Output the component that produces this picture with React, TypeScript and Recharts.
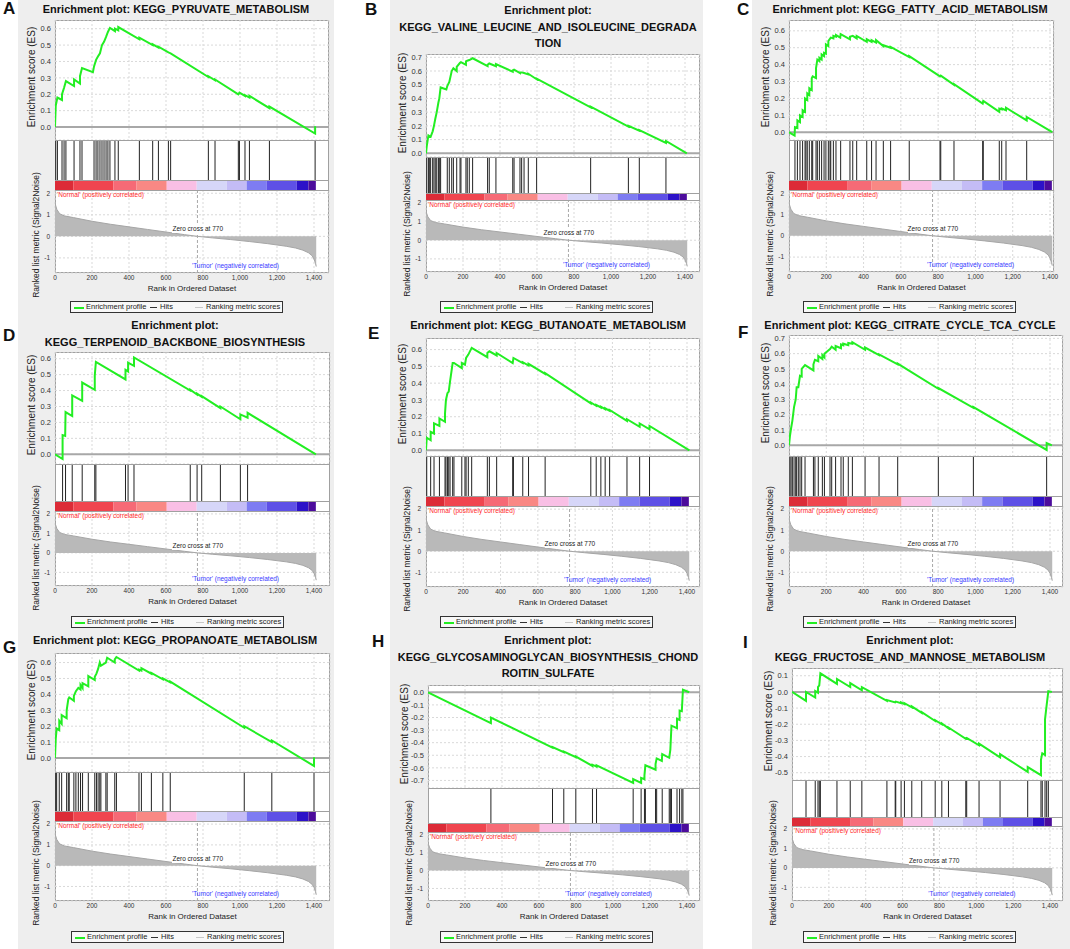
import React from 'react';
import {
  LineChart, Line, AreaChart, Area, ComposedChart, Scatter, XAxis, YAxis,
  CartesianGrid, ReferenceLine, ReferenceArea,
} from 'recharts';

const FONT = '"Liberation Sans", Arial, sans-serif';
const AX = 40; // room for the y tick labels
const RM = 12; // right room so the last x tick label is not cut

// shared axes / ranked list
const xTicks = [0, 200, 400, 600, 800, 1000, 1200, 1400];
const metricTicks = [-1, 0, 1, 2];
const metricDomain: [number, number] = [-1.7, 2.15];
const metricRanks = [0, 3, 10, 25, 50, 100, 200, 300, 400, 500, 600, 700, 770, 850, 950, 1050, 1150, 1250, 1300, 1340, 1370, 1390, 1400, 1408, 1412];
const metricScores = [1.6, 1.45, 1.25, 1.05, 0.95, 0.87, 0.7, 0.56, 0.44, 0.32, 0.2, 0.08, 0.0, -0.07, -0.15, -0.24, -0.34, -0.46, -0.54, -0.64, -0.76, -0.9, -1.05, -1.25, -1.4];

// colour bar
const barEdges = [0, 99, 315, 441, 604, 766, 928, 1036, 1145, 1307, 1370, 1410];
const barColors = ['#dc2b37', '#f0454f', '#f66a76', '#f98884', '#f9bfe5', '#d6d6f8', '#c4bcf6', '#7e7cf2', '#5e50e6', '#2c12c8', '#4c0c9c'];

const esTicks06 = [0, 0.1, 0.2, 0.3, 0.4, 0.5, 0.6];
const esTicks07 = [0, 0.1, 0.2, 0.3, 0.4, 0.5, 0.6, 0.7];
const esTicksH = [-0.7, -0.6, -0.5, -0.4, -0.3, -0.2, -0.1, 0];
const esTicksI = [-0.5, -0.4, -0.3, -0.2, -0.1, 0, 0.1];

// running enrichment score, [rank, ES]
const esA = [[0,0],[4,0.13],[13,0.18],[38,0.165],[38,0.2],[49,0.24],[59,0.28],[103,0.25],[103,0.29],[135,0.265],[135,0.31],[146,0.36],[205,0.335],[211,0.37],[222,0.41],[232,0.43],[243,0.45],[254,0.5],[265,0.52],[276,0.55],[286,0.58],[297,0.605],[324,0.585],[324,0.6],[342,0.59],[342,0.61],[456,0.535],[456,0.545],[528,0.5],[528,0.505],[559,0.485],[559,0.49],[613,0.455],[625,0.45],[829,0.305],[829,0.31],[865,0.285],[865,0.29],[991,0.2],[997,0.21],[1027,0.19],[1027,0.195],[1051,0.18],[1051,0.19],[1159,0.115],[1159,0.125],[1406,-0.04],[1406,0.005]];
const esB = [[0,0],[4,0.05],[13,0.13],[25,0.12],[36,0.16],[43,0.2],[50,0.25],[58,0.3],[67,0.37],[72,0.4],[79,0.48],[110,0.465],[115,0.49],[126,0.52],[139,0.6],[148,0.62],[166,0.6],[166,0.63],[184,0.66],[189,0.665],[216,0.645],[216,0.67],[223,0.675],[234,0.68],[252,0.693],[333,0.635],[333,0.645],[342,0.655],[378,0.635],[378,0.65],[469,0.595],[469,0.605],[476,0.61],[508,0.585],[508,0.59],[517,0.59],[530,0.585],[553,0.575],[553,0.58],[598,0.54],[598,0.545],[890,0.335],[890,0.34],[1094,0.195],[1094,0.2],[1153,0.165],[1153,0.17],[1297,0.075],[1297,0.09],[1410,0]];
const esC = [[0,0],[30,-0.02],[32,0.03],[45,0.025],[45,0.07],[59,0.06],[59,0.1],[73,0.09],[73,0.13],[86,0.12],[86,0.2],[98,0.19],[98,0.23],[109,0.22],[109,0.26],[122,0.25],[122,0.32],[127,0.33],[145,0.32],[145,0.38],[152,0.43],[163,0.42],[163,0.44],[175,0.43],[175,0.46],[188,0.45],[188,0.47],[198,0.465],[198,0.52],[211,0.51],[211,0.54],[224,0.56],[238,0.555],[238,0.57],[252,0.565],[252,0.575],[275,0.56],[277,0.58],[327,0.55],[327,0.565],[342,0.57],[363,0.555],[363,0.57],[417,0.535],[417,0.55],[443,0.535],[443,0.545],[467,0.53],[467,0.545],[506,0.51],[506,0.515],[545,0.5],[545,0.505],[645,0.445],[645,0.45],[810,0.33],[814,0.335],[885,0.28],[885,0.285],[1039,0.17],[1042,0.185],[1128,0.12],[1128,0.14],[1141,0.135],[1141,0.14],[1164,0.13],[1164,0.145],[1275,0.07],[1275,0.09],[1412,0]];
const esD = [[0,0],[41,-0.03],[41,0.12],[55,0.115],[57,0.265],[93,0.24],[93,0.37],[147,0.335],[147,0.45],[215,0.405],[215,0.495],[221,0.58],[381,0.47],[381,0.53],[395,0.52],[395,0.575],[427,0.555],[427,0.608],[731,0.4],[731,0.405],[768,0.375],[768,0.38],[793,0.36],[793,0.365],[894,0.29],[894,0.3],[1002,0.22],[1002,0.25],[1041,0.23],[1041,0.26],[1410,0]];
const esE = [[0,0],[4,0.075],[25,0.06],[25,0.11],[43,0.1],[43,0.16],[72,0.145],[72,0.19],[102,0.17],[102,0.22],[107,0.3],[115,0.34],[122,0.35],[129,0.41],[143,0.52],[150,0.52],[192,0.49],[192,0.52],[209,0.51],[215,0.55],[227,0.57],[245,0.61],[329,0.555],[329,0.58],[340,0.59],[379,0.565],[379,0.58],[465,0.52],[469,0.55],[519,0.52],[519,0.525],[550,0.505],[550,0.515],[639,0.455],[639,0.46],[884,0.28],[884,0.285],[913,0.265],[913,0.27],[938,0.255],[938,0.26],[961,0.245],[961,0.25],[985,0.235],[985,0.24],[1078,0.175],[1078,0.185],[1146,0.14],[1146,0.16],[1199,0.125],[1199,0.145],[1413,0]];
const esF = [[0,0],[5,0.06],[11,0.11],[18,0.16],[27,0.25],[36,0.3],[41,0.38],[50,0.38],[59,0.455],[68,0.45],[68,0.5],[86,0.525],[131,0.49],[131,0.53],[139,0.56],[157,0.55],[157,0.585],[179,0.565],[179,0.59],[190,0.575],[190,0.6],[220,0.63],[229,0.645],[250,0.625],[250,0.65],[279,0.635],[279,0.66],[291,0.655],[291,0.665],[318,0.655],[318,0.67],[340,0.665],[340,0.675],[408,0.625],[408,0.64],[483,0.59],[483,0.595],[583,0.53],[583,0.535],[801,0.37],[801,0.375],[989,0.245],[989,0.25],[1382,-0.03],[1382,0.015],[1410,0]];
const esG = [[0,0],[4,0.12],[9,0.185],[23,0.175],[23,0.235],[36,0.215],[36,0.27],[63,0.25],[63,0.3],[72,0.37],[77,0.38],[102,0.36],[102,0.39],[113,0.42],[126,0.44],[138,0.43],[138,0.46],[149,0.44],[149,0.47],[180,0.45],[180,0.515],[215,0.49],[215,0.51],[224,0.53],[233,0.56],[242,0.6],[248,0.58],[275,0.6],[282,0.63],[323,0.6],[323,0.62],[332,0.635],[454,0.55],[454,0.555],[467,0.55],[467,0.565],[521,0.53],[521,0.535],[583,0.495],[583,0.5],[623,0.475],[623,0.48],[1023,0.19],[1023,0.2],[1172,0.1],[1172,0.11],[1400,-0.05],[1400,0.005]];
const esH = [[0,0],[340,-0.245],[340,-0.2],[673,-0.44],[673,-0.435],[734,-0.475],[734,-0.47],[799,-0.515],[799,-0.51],[889,-0.585],[889,-0.575],[911,-0.59],[911,-0.58],[1109,-0.72],[1109,-0.69],[1152,-0.72],[1152,-0.68],[1170,-0.69],[1170,-0.66],[1175,-0.58],[1230,-0.615],[1230,-0.57],[1236,-0.525],[1264,-0.545],[1266,-0.49],[1304,-0.52],[1310,-0.455],[1316,-0.265],[1346,-0.285],[1346,-0.21],[1360,-0.22],[1360,-0.145],[1372,-0.15],[1378,0.02],[1412,0]];
const esI = [[0,0],[76,-0.055],[76,0],[126,-0.035],[126,0.005],[141,-0.005],[141,0.03],[148,0.04],[154,0.115],[244,0.05],[244,0.08],[316,0.03],[316,0.055],[379,0.01],[379,0.03],[515,-0.055],[515,-0.05],[560,-0.065],[563,-0.06],[592,-0.07],[592,-0.065],[610,-0.075],[610,-0.07],[650,-0.095],[650,-0.09],[704,-0.13],[704,-0.125],[777,-0.18],[777,-0.175],[813,-0.2],[813,-0.195],[849,-0.225],[849,-0.22],[943,-0.29],[948,-0.285],[1015,-0.33],[1015,-0.32],[1129,-0.405],[1129,-0.385],[1279,-0.495],[1279,-0.465],[1351,-0.515],[1351,-0.42],[1358,-0.38],[1373,-0.39],[1373,-0.17],[1382,-0.08],[1391,0.005],[1410,0]];

// gene set hits (rank positions)
const hitsA = [4,13,38,49,59,103,135,146,211,222,232,243,254,265,276,286,297,324,342,456,528,559,613,625,829,865,991,997,1027,1051,1159,1406];
const hitsB = [4,13,18,25,36,43,50,58,67,72,79,115,126,139,148,166,184,189,216,223,234,252,333,342,378,469,476,508,517,530,553,598,890,1094,1153,1297];
const hitsC = [32,45,59,73,86,91,98,109,122,127,145,152,163,175,188,198,211,220,224,238,252,277,327,342,363,417,443,467,506,545,645,810,814,885,1039,1042,1128,1141,1164,1275];
const hitsD = [41,57,93,147,215,221,381,395,427,731,768,793,894,1002,1041];
const hitsE = [4,25,43,72,102,107,115,122,129,143,150,192,209,215,227,245,329,340,379,465,469,519,550,639,884,913,938,961,985,1078,1146,1199];
const hitsF = [5,11,18,27,36,41,50,59,68,86,131,139,157,179,190,220,229,250,279,291,318,340,408,483,583,801,989,1382];
const hitsG = [4,9,23,36,63,72,77,102,113,126,138,149,180,215,224,233,242,248,275,282,323,332,454,467,521,583,623,1023,1172,1400];
const hitsH = [340,673,734,799,889,911,1109,1152,1170,1175,1230,1236,1266,1304,1310,1316,1346,1360,1372,1378];
const hitsI = [76,126,141,148,154,244,316,379,515,560,563,592,610,650,704,777,813,849,943,948,1015,1129,1279,1351,1358,1373,1382,1391];

const titles: Record<string, string[]> = {
  A: ['Enrichment plot: KEGG_PYRUVATE_METABOLISM'],
  B: ['Enrichment plot:', 'KEGG_VALINE_LEUCINE_AND_ISOLEUCINE_DEGRADA', 'TION'],
  C: ['Enrichment plot: KEGG_FATTY_ACID_METABOLISM'],
  D: ['Enrichment plot:', 'KEGG_TERPENOID_BACKBONE_BIOSYNTHESIS'],
  E: ['Enrichment plot: KEGG_BUTANOATE_METABOLISM'],
  F: ['Enrichment plot: KEGG_CITRATE_CYCLE_TCA_CYCLE'],
  G: ['Enrichment plot: KEGG_PROPANOATE_METABOLISM'],
  H: ['Enrichment plot:', 'KEGG_GLYCOSAMINOGLYCAN_BIOSYNTHESIS_CHOND', 'ROITIN_SULFATE'],
  I: ['Enrichment plot:', 'KEGG_FRUCTOSE_AND_MANNOSE_METABOLISM'],
};

// page layout of each panel (pixels)
type Geo = {
  id: string; lx: number; ly: number; cx: number; ty: number;
  left: number; right: number; x1400: number;
  top: number; esB: number; hitsB: number; barB: number; bottom: number;
  esLo: number; esHi: number; legX: number; legY: number;
};
const layout: Geo[] = [
  { id: 'A', lx: 3, ly: 3, cx: 176, ty: 9, left: 55, right: 329, x1400: 314, top: 20, esB: 140, hitsB: 180, barB: 190, bottom: 273, esLo: -0.079, esHi: 0.653, legX: 70, legY: 301 },
  { id: 'B', lx: 365, ly: 4, cx: 548, ty: 10, left: 426, right: 700, x1400: 685, top: 54, esB: 157, hitsB: 193, barB: 200, bottom: 272, esLo: -0.027, esHi: 0.724, legX: 440, legY: 301 },
  { id: 'C', lx: 737, ly: 4, cx: 910, ty: 9, left: 789, right: 1054, x1400: 1050, top: 20, esB: 140, hitsB: 180, barB: 190, bottom: 272, esLo: -0.046, esHi: 0.664, legX: 803, legY: 301 },
  { id: 'D', lx: 3, ly: 330, cx: 175, ty: 325, left: 55, right: 330, x1400: 314, top: 352, esB: 464, hitsB: 501, barB: 511, bottom: 586, esLo: -0.061, esHi: 0.642, legX: 71, legY: 616 },
  { id: 'E', lx: 368, ly: 328, cx: 548, ty: 325, left: 426, right: 700, x1400: 687, top: 338, esB: 456, hitsB: 496, barB: 506, bottom: 587, esLo: -0.034, esHi: 0.669, legX: 440, legY: 616 },
  { id: 'F', lx: 738, ly: 327, cx: 910, ty: 325, left: 789, right: 1063, x1400: 1050, top: 335, esB: 456, hitsB: 496, barB: 506, bottom: 587, esLo: -0.07, esHi: 0.722, legX: 803, legY: 616 },
  { id: 'G', lx: 3, ly: 642, cx: 175, ty: 640, left: 55, right: 330, x1400: 314, top: 653, esB: 772, hitsB: 811, barB: 821, bottom: 901, esLo: -0.088, esHi: 0.66, legX: 71, legY: 931 },
  { id: 'H', lx: 372, ly: 636, cx: 548, ty: 640, left: 428, right: 700, x1400: 687, top: 685, esB: 788, hitsB: 823, barB: 832, bottom: 901, esLo: -0.76, esHi: 0.058, legX: 440, legY: 931 },
  { id: 'I', lx: 743, ly: 637, cx: 910, ty: 640, left: 792, right: 1063, x1400: 1050, top: 668, esB: 780, hitsB: 817, barB: 826, bottom: 901, esLo: -0.545, esHi: 0.148, legX: 803, legY: 931 },
];

const series: Record<string, { es: number[][]; hits: number[]; ticks: number[] }> = {
  A: { es: esA, hits: hitsA, ticks: esTicks06 },
  B: { es: esB, hits: hitsB, ticks: esTicks07 },
  C: { es: esC, hits: hitsC, ticks: esTicks06 },
  D: { es: esD, hits: hitsD, ticks: esTicks06 },
  E: { es: esE, hits: hitsE, ticks: esTicks06 },
  F: { es: esF, hits: hitsF, ticks: esTicks07 },
  G: { es: esG, hits: hitsG, ticks: esTicks06 },
  H: { es: esH, hits: hitsH, ticks: esTicksH },
  I: { es: esI, hits: hitsI, ticks: esTicksI },
};

const metricData = metricRanks.map((r, i) => ({ r, m: metricScores[i] }));
const edgeData = barEdges.map((r) => ({ r, y: 0.5 }));
const gridColor = '#d9d9d9';

const abs = (left: number, top: number, extra: React.CSSProperties = {}): React.CSSProperties => ({
  position: 'absolute', left, top, ...extra,
});

const Rotated = ({ x, y, size, text }: { x: number; y: number; size: number; text: string }) => (
  <div style={abs(x - 110, y - 7, { width: 220, height: 14, lineHeight: '14px', textAlign: 'center', fontSize: size, color: '#222', transform: 'rotate(-90deg)', whiteSpace: 'nowrap' })}>
    {text}
  </div>
);

const Legend = ({ x, y }: { x: number; y: number }) => (
  <div style={abs(x, y, { width: 213, height: 12, border: '1px solid #333', background: '#f8f8f8', boxSizing: 'border-box', fontSize: 7.5, color: '#222' })}>
    <div style={abs(3, 5, { width: 10, height: 2, background: '#22ee22' })} />
    <div style={abs(15, 0, { lineHeight: '10px' })}>Enrichment profile</div>
    <div style={abs(79, 5, { width: 7, height: 1, background: '#333' })} />
    <div style={abs(89, 0, { lineHeight: '10px' })}>Hits</div>
    <div style={abs(124, 5, { width: 8, height: 1, background: '#c8c8c8' })} />
    <div style={abs(135, 0, { lineHeight: '10px' })}>Ranking metric scores</div>
  </div>
);

const Panel = ({ g }: { g: Geo }) => {
  const s = series[g.id];
  const w = g.right - g.left;
  const xMax = (1400 * w) / (g.x1400 - g.left);
  const esData = s.es.map(([r, v]) => ({ r, v }));
  const hitData = s.hits.map((r) => ({ r, y: 0.5 }));
  const hitsH = g.hitsB - g.esB;
  const margin = { top: 0, right: RM, bottom: 0, left: 0 };
  const xPx = (r: number) => g.left + (r * w) / xMax;
  const zeroY = g.barB + (metricDomain[1] / (metricDomain[1] - metricDomain[0])) * (g.bottom - g.barB);
  const lines = titles[g.id];
  const sep = (y: number) => <div style={abs(g.left, y, { width: w, height: 1, background: '#a0a0a0' })} />;

  const hitShape = (p: any) => (
    <line x1={p.cx} x2={p.cx} y1={p.cy - hitsH / 2} y2={p.cy + hitsH / 2} stroke="#222" strokeWidth={1} />
  );

  return (
    <>
      <div style={abs(g.lx, g.ly - 3, { fontSize: 17, fontWeight: 'bold', lineHeight: '17px', color: '#111' })}>{g.id}</div>
      <div style={abs(g.cx - 180, g.ty - 8, { width: 360, textAlign: 'center', fontSize: 11, fontWeight: 'bold', lineHeight: '16.5px', color: '#111' })}>
        {lines.map((t) => <div key={t}>{t}</div>)}
      </div>

      <div style={abs(g.left, g.top, { width: w, height: g.bottom - g.top, background: '#fff', border: '1px solid #a0a0a0', boxSizing: 'border-box' })} />

      {/* enrichment score */}
      <div style={abs(g.left - AX, g.top)}>
        <LineChart width={w + AX + RM} height={g.esB - g.top} data={esData} margin={margin}>
          <CartesianGrid stroke={gridColor} strokeDasharray="2 2" />
          <XAxis type="number" dataKey="r" domain={[0, xMax]} ticks={xTicks} allowDataOverflow hide />
          <YAxis type="number" domain={[g.esLo, g.esHi]} ticks={s.ticks} allowDataOverflow interval={0} width={AX}
            axisLine={false} tickLine={false} tickSize={2} tickMargin={2}
            tick={{ fontSize: 7.5, fill: '#333' }} tickFormatter={(v: number) => v.toFixed(1)} />
          <ReferenceLine y={0} stroke="#a8a8a8" strokeWidth={2} />
          <Line type="linear" dataKey="v" stroke="#22ee22" strokeWidth={2} dot={false} isAnimationActive={false} />
        </LineChart>
      </div>

      {/* hits */}
      <div style={abs(g.left - AX, g.esB)}>
        <ComposedChart width={w + AX + RM} height={hitsH} data={hitData} margin={{ ...margin, left: AX }}>
          <XAxis type="number" dataKey="r" domain={[0, xMax]} allowDataOverflow hide />
          <YAxis type="number" dataKey="y" domain={[0, 1]} allowDataOverflow hide />
          <Scatter dataKey="y" shape={hitShape} isAnimationActive={false} />
        </ComposedChart>
      </div>

      {/* colour bar */}
      <div style={abs(g.left - AX, g.hitsB)}>
        <ComposedChart width={w + AX + RM} height={g.barB - g.hitsB} data={edgeData} margin={{ ...margin, left: AX }}>
          <XAxis type="number" dataKey="r" domain={[0, xMax]} allowDataOverflow hide />
          <YAxis type="number" dataKey="y" domain={[0, 1]} allowDataOverflow hide />
          {barColors.map((c, i) => (
            <ReferenceArea key={i} x1={barEdges[i]} x2={barEdges[i + 1]} y1={0} y2={1} fill={c} fillOpacity={1} stroke="none" ifOverflow="extendDomain" />
          ))}
          <Scatter dataKey="y" shape={() => <g />} isAnimationActive={false} />
        </ComposedChart>
      </div>

      {/* ranked list metric */}
      <div style={abs(g.left - AX, g.barB)}>
        <AreaChart width={w + AX + RM} height={g.bottom - g.barB + 12} data={metricData} margin={margin}>
          <CartesianGrid stroke={gridColor} strokeDasharray="2 2" />
          <XAxis type="number" dataKey="r" domain={[0, xMax]} ticks={xTicks} allowDataOverflow interval={0} height={12}
            axisLine={false} tickLine={false} tickSize={0} tickMargin={2}
            tick={{ fontSize: 6.5, fill: '#333' }} tickFormatter={(v: number) => v.toLocaleString('en-US')} />
          <YAxis type="number" domain={metricDomain} ticks={metricTicks} allowDataOverflow interval={0} width={AX}
            axisLine={false} tickLine={false} tickSize={2} tickMargin={3}
            tick={{ fontSize: 6.5, fill: '#333' }} />
          <ReferenceLine x={770} stroke="#a8a8a8" strokeDasharray="3 2" />
          <Area type="linear" dataKey="m" stroke="#a6a6a6" strokeWidth={1} fill="#b9b9b9" fillOpacity={1} baseValue={0} isAnimationActive={false} />
        </AreaChart>
      </div>

      {sep(g.esB)}
      {sep(g.hitsB)}
      {sep(g.barB)}

      <div style={abs(g.left + 2, g.barB + 1, { fontSize: 6.5, lineHeight: '7px', color: '#ff2a2a', whiteSpace: 'nowrap' })}>'Normal' (positively correlated)</div>
      <div style={abs(xPx(770) - 25, zeroY - 11, { width: 50, textAlign: 'center', fontSize: 6.5, lineHeight: '8px', background: '#fff', color: '#222', whiteSpace: 'nowrap' })}>Zero cross at 770</div>
      <div style={abs(xPx(740), g.bottom - 11, { fontSize: 6.5, lineHeight: '8px', color: '#3a3aff', whiteSpace: 'nowrap' })}>'Tumor' (negatively correlated)</div>

      <Rotated x={g.left - 23} y={(g.top + g.esB) / 2 - 3} size={10} text="Enrichment score (ES)" />
      <Rotated x={g.left - 19} y={g.bottom - 38} size={8.5} text="Ranked list metric (Signal2Noise)" />
      <div style={abs(g.left, g.bottom + 11, { width: w, textAlign: 'center', fontSize: 8, lineHeight: '10px', color: '#222' })}>Rank in Ordered Dataset</div>

      <Legend x={g.legX} y={g.legY} />
    </>
  );
};

const columns = [[18, 334], [390, 703], [752, 1070]];

export default function App() {
  return (
    <div style={{ position: 'absolute', left: 0, top: 0, width: 1070, height: 949, background: '#fff', fontFamily: FONT, overflow: 'hidden' }}>
      {columns.map(([a, b]) => (
        <div key={a} style={abs(a, 0, { width: b - a, height: 949, background: '#eeeeee' })} />
      ))}
      {layout.map((g) => <Panel key={g.id} g={g} />)}
    </div>
  );
}
